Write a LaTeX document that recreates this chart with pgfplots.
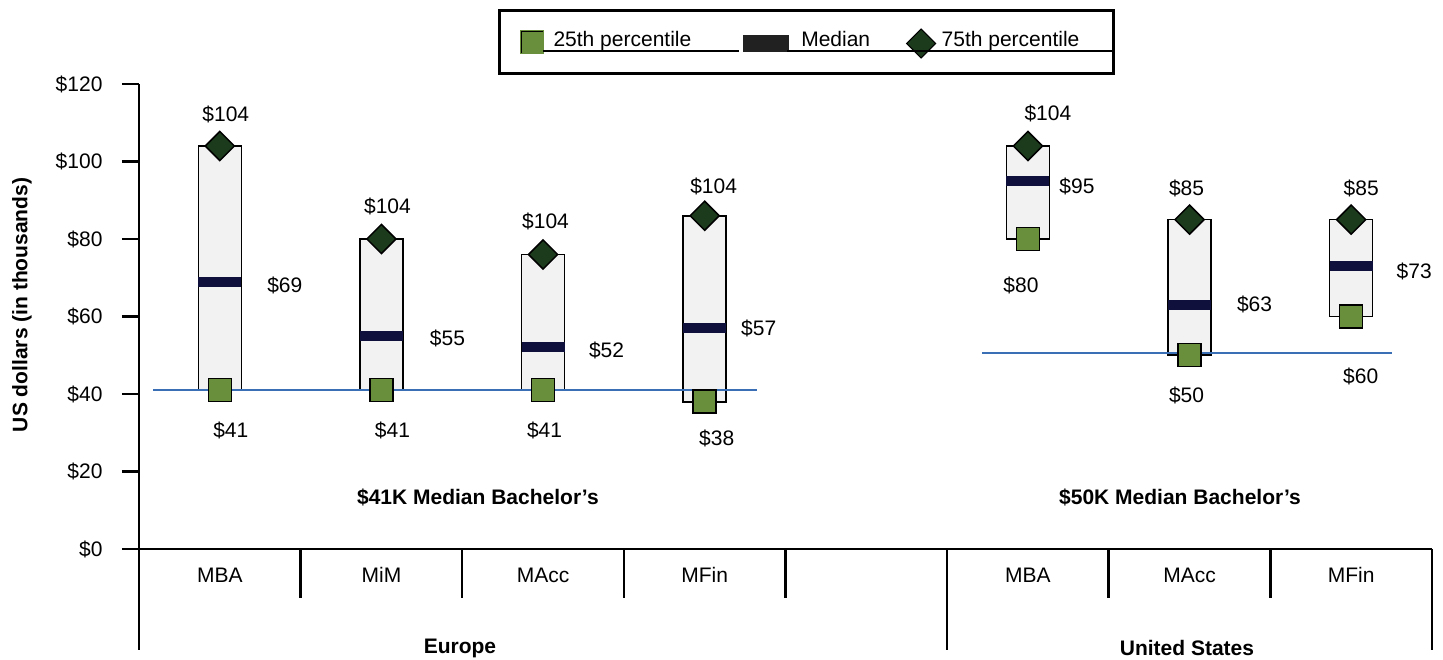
\documentclass[border=0pt]{standalone}
\usepackage{fontspec}
\setmainfont{Liberation Sans}
\usepackage{pgfplots}
\usepackage{pgfplotstable}
\pgfplotsset{compat=1.18}
\definecolor{boxfill}{HTML}{F2F2F2}
\definecolor{greenq}{HTML}{6A8F3C}
\definecolor{dkgreen}{HTML}{1C3A1C}
\definecolor{navy}{HTML}{10103C}
\definecolor{blueline}{HTML}{3A6EB5}
\newcommand{\fs}{\fontsize{21}{25}\selectfont}

\pgfplotstableread{
x q1 med q3
0 41 69 104
1 41 55 80
2 41 52 76
3 38 57 86
5 80 95 104
6 50 63 85
7 60 73 85
}\pct

\begin{document}
\begin{tikzpicture}[font=\fs]
\path[use as bounding box] (0pt,0pt) rectangle (1443pt,660pt);
\pgfplotsset{common/.style={at={(139pt,111pt)}, anchor=south west, scale only axis,
  width=1293pt, height=465pt, xmin=-0.5, xmax=7.5, ymin=0, ymax=120, clip=false}}
% ---------- axis with boxes ----------
\begin{axis}[common,
  axis x line=bottom, axis y line=left,
  axis line style={line width=2.4pt, -},
  ytick={0,20,...,120},
  yticklabel={\$\pgfmathprintnumber{\tick}},
  /pgf/number format/assume math mode=true,
  tick align=outside, major tick length=17pt,
  ytick style={line width=2.4pt, black},
  yticklabel style={xshift=-16pt},
  xtick={0,...,7}, xticklabels={MBA,MiM,MAcc,MFin,,MBA,MAcc,MFin},
  xtick style={draw=none},
  xticklabel style={anchor=center, yshift=-9pt},
  ticklabel style={font=\fs},
  ylabel={US dollars (in thousands)},
  ylabel style={font=\fs\bfseries, at={(rel axis cs:-0.0905,0.525)}, anchor=center},
  ybar stacked, bar width=43pt,
]
\addplot[draw=none, fill=none, forget plot] table[x=x, y=q1] {\pct};
\addplot[draw=black, line width=1.6pt, fill=boxfill, forget plot] table[x=x, y expr=\thisrow{q3}-\thisrow{q1}] {\pct};
\end{axis}
% ---------- overlay axis with marks, lines, labels ----------
\begin{axis}[common, hide axis,
  legend columns=3,
  legend style={at={(0.2777,1.1602)}, anchor=north west, draw=black, line width=3pt,
    inner xsep=20.5pt, inner ysep=0pt, font=\fs,
    /tikz/every even column/.append style={column sep=0pt}},
]
\addplot[only marks, mark=square*, mark size=11.5pt,
  mark options={fill=greenq, draw=black, line width=1.5pt},
  legend image code/.code={\fill[greenq] (0pt,-13.5pt) rectangle (21pt,8pt);
     \draw[black, line width=1pt] (0pt,-13.5pt) -- (0pt,8pt) -- (21pt,8pt);
     \path (28.5pt,-33pt) (28.5pt,27pt);}]
  table[x=x, y=q1] {\pct};
\addlegendentry{25th percentile}
\addplot[only marks, mark=-, mark size=21.5pt,
  mark options={draw=navy, line width=10pt},
  legend image code/.code={\fill[black!87] (0pt,-11pt) rectangle (43pt,3pt);
     \path (-50pt,0pt) (53pt,0pt);}]
  table[x=x, y=med] {\pct};
\addlegendentry{Median}
\addplot[only marks, mark=square*, mark size=10.3pt,
  mark options={rotate=45, fill=dkgreen, draw=black, line width=1.5pt},
  legend image code/.code={\draw[fill=dkgreen, line width=1pt] (0pt,-4pt) -- (14.5pt,10.5pt) -- (29pt,-4pt) -- (14.5pt,-18.5pt) -- cycle;
     \path (-33pt,0pt) (31.5pt,0pt);}]
  table[x=x, y=q3] {\pct};
\addlegendentry{75th percentile\rule{12pt}{0pt}}
\addplot[blueline, line width=2pt, forget plot] coordinates {(-0.413,41) (3.324,41)};
\addplot[blueline, line width=2pt, forget plot] coordinates {(4.716,50.5) (7.253,50.5)};
% category separators
\draw[line width=2.5pt] (axis cs:0.5,0) -- (axis cs:0.5,-12.65);
\draw[line width=2.5pt] (axis cs:1.5,0) -- (axis cs:1.5,-12.65);
\draw[line width=2.5pt] (axis cs:2.5,0) -- (axis cs:2.5,-12.65);
\draw[line width=2.5pt] (axis cs:3.5,0) -- (axis cs:3.5,-12.65);
\draw[line width=2.5pt] (axis cs:5.5,0) -- (axis cs:5.5,-12.65);
\draw[line width=2.5pt] (axis cs:6.5,0) -- (axis cs:6.5,-12.65);
\draw[line width=2.5pt] (axis cs:-0.5,0) -- (axis cs:-0.5,-26.1);
\draw[line width=2.5pt] (axis cs:4.5,0) -- (axis cs:4.5,-26.1);
\draw[line width=2.5pt] (axis cs:7.5,0) -- (axis cs:7.5,-26.1);
% group labels
\node[font=\fs\bfseries] at (axis cs:1.486,-25.55) {Europe};
\node[font=\fs\bfseries] at (axis cs:5.984,-25.55) {United States};
\node[font=\fs\bfseries] at (axis cs:1.597,13.42) {\$41K Median Bachelor’s};
\node[font=\fs\bfseries] at (axis cs:5.941,13.42) {\$50K Median Bachelor’s};
% value labels
\node[xshift=6pt, yshift=32pt] at (axis cs:0,104) {\$104};
\node[xshift=65pt, yshift=-4pt] at (axis cs:0,69) {\$69};
\node[xshift=11pt, yshift=-40pt] at (axis cs:0,41) {\$41};
\node[xshift=6pt, yshift=33pt] at (axis cs:1,80) {\$104};
\node[xshift=66pt, yshift=-3pt] at (axis cs:1,55) {\$55};
\node[xshift=11pt, yshift=-40pt] at (axis cs:1,41) {\$41};
\node[xshift=2.5pt, yshift=33.5pt] at (axis cs:2,76) {\$104};
\node[xshift=63.5pt, yshift=-2.5pt] at (axis cs:2,52) {\$52};
\node[xshift=1.5pt, yshift=-40pt] at (axis cs:2,41) {\$41};
\node[xshift=9pt, yshift=29pt] at (axis cs:3,86) {\$104};
\node[xshift=54pt, yshift=0pt] at (axis cs:3,57) {\$57};
\node[xshift=12pt, yshift=-37pt] at (axis cs:3,38) {\$38};
\node[xshift=20pt, yshift=33pt] at (axis cs:5,104) {\$104};
\node[xshift=49pt, yshift=-6pt] at (axis cs:5,95) {\$95};
\node[xshift=-7pt, yshift=-46pt] at (axis cs:5,80) {\$80};
\node[xshift=-3pt, yshift=31.5pt] at (axis cs:6,85) {\$85};
\node[xshift=65pt, yshift=0pt] at (axis cs:6,63) {\$63};
\node[xshift=-3pt, yshift=-40pt] at (axis cs:6,50) {\$50};
\node[xshift=10pt, yshift=31.5pt] at (axis cs:7,85) {\$85};
\node[xshift=63pt, yshift=-5pt] at (axis cs:7,73) {\$73};
\node[xshift=9.5pt, yshift=-60pt] at (axis cs:7,60) {\$60};
\end{axis}
% legend underlines
\draw[line width=2.5pt] (543pt,609pt) -- (739pt,609pt);
\draw[line width=2.5pt] (787pt,609pt) -- (1113pt,609pt);
\end{tikzpicture}
\end{document}
